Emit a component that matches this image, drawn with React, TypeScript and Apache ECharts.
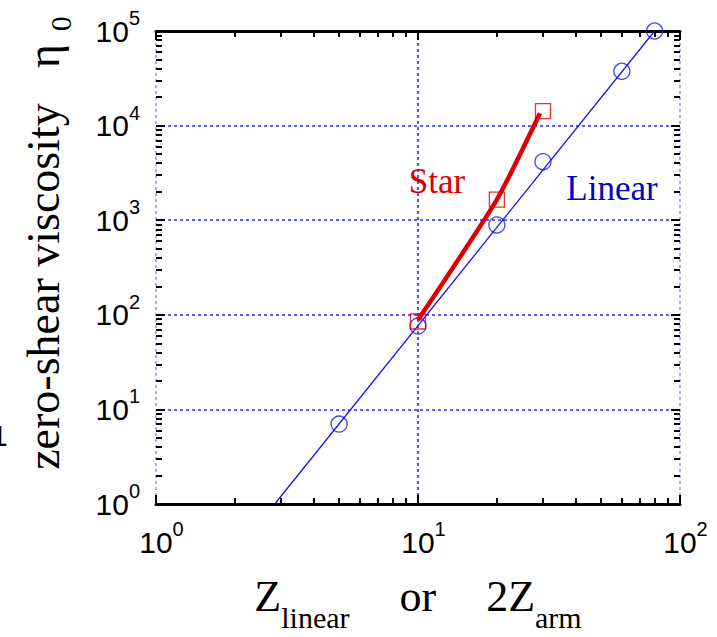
import React, { useEffect, useRef } from "react";
import * as echarts from "echarts";

// ---- data ----
const linearZ = [5, 10, 20, 30, 60, 80];
const linearEta = [7, 76, 890, 4150, 37500, 100000];
const starZ = [10, 20, 30];
const starEta = [85, 1650, 14200];
const linearFitZ = [2.84, 80];
const linearFitEta = [1, 100000];
const starFitZ = [10, 20, 29.2];
const starFitEta = [88, 1650, 13500];

// ---- axis ticks ----
const xMajorTicks = [1, 10, 100];
const yMajorTicks = [1, 10, 100, 1000, 10000, 100000];
const minorMultipliers = [2, 3, 4, 5, 6, 7, 8, 9];
const minorOf = (decades: number[]) =>
  decades.flatMap((d) => minorMultipliers.map((m) => m * d));
const xMinorTicks = minorOf(xMajorTicks.slice(0, -1));
const yMinorTicks = minorOf(yMajorTicks.slice(0, -1));

const zip = (a: number[], b: number[]) => a.map((v, i) => [v, b[i]]);

const BLUE = "#1414f0";
const RED = "#dd0000";
const GRID_BLUE = "#2b2be8";
const EDGE_BLUE = "#9a9ae6";

const supLabel = (v: number) => `{b|10}{sup|${Math.round(Math.log10(v))}}`;
const labelRich = {
  b: { fontFamily: "Liberation Sans", fontSize: 30, lineHeight: 46, verticalAlign: "top", padding: [8, 0, 0, 0], color: "#000" },
  sup: { fontFamily: "Liberation Sans", fontSize: 20, lineHeight: 20, verticalAlign: "top", color: "#000" },
};

const tickStyle = { color: "#000", width: 2 };

export default function App() {
  const ref = useRef<HTMLDivElement>(null);
  useEffect(() => {
    if (!ref.current) return;
    const chart = echarts.init(ref.current, null, { renderer: "svg" });
    const baseX = { type: "log", logBase: 10, min: 1, max: 100, gridIndex: 0 };
    const baseY = { type: "log", logBase: 10, min: 1, max: 100000, gridIndex: 0 };
    const majorX = (position: string, labels: boolean) => ({
      ...baseX,
      position,
      axisLine: { show: true, onZero: false, lineStyle: { color: "#000", width: 3 } },
      axisTick: { show: true, inside: true, length: 9, lineStyle: tickStyle, customValues: xMajorTicks },
      axisLabel: labels
        ? { show: true, customValues: xMajorTicks, formatter: supLabel, rich: labelRich, margin: 15, padding: [0, 0, 0, 11] }
        : { show: false },
      splitLine: labels
        ? { show: true, lineStyle: { color: [EDGE_BLUE, GRID_BLUE, EDGE_BLUE], type: [3, 3], width: 1.6 } }
        : { show: false },
    });
    const minorX = (position: string) => ({
      ...baseX,
      position,
      axisLine: { show: false, onZero: false },
      axisTick: { show: true, inside: true, length: 6, lineStyle: tickStyle, customValues: xMinorTicks },
      axisLabel: { show: false },
      splitLine: { show: false },
    });
    const majorY = (position: string, labels: boolean) => ({
      ...baseY,
      position,
      axisLine: { show: false, onZero: false },
      axisTick: { show: true, inside: true, length: 9, lineStyle: tickStyle, customValues: yMajorTicks },
      axisLabel: labels
        ? { show: true, customValues: yMajorTicks, formatter: supLabel, rich: labelRich, margin: 16 }
        : { show: false },
      splitLine: labels
        ? { show: true, lineStyle: { color: GRID_BLUE, type: [3, 3], width: 1.6 } }
        : { show: false },
    });
    const minorY = (position: string) => ({
      ...baseY,
      position,
      axisLine: { show: false, onZero: false },
      axisTick: { show: true, inside: true, length: 6, lineStyle: tickStyle, customValues: yMinorTicks },
      axisLabel: { show: false },
      splitLine: { show: false },
    });

    const option: any = {
      animation: false,
      backgroundColor: "#fff",
      grid: { left: 156, top: 31, right: 37, bottom: 133, containLabel: false },
      xAxis: [majorX("bottom", true), minorX("bottom"), majorX("top", false), minorX("top")],
      yAxis: [majorY("left", true), minorY("left"), majorY("right", false), minorY("right")],
      series: [
        {
          type: "line",
          data: zip(linearFitZ, linearFitEta),
          symbol: "none",
          lineStyle: { color: BLUE, width: 1.3 },
          silent: true,
          z: 3,
        },
        {
          type: "scatter",
          data: zip(linearZ, linearEta),
          symbol: "circle",
          symbolSize: 16,
          itemStyle: { color: "rgba(0,0,0,0)", borderColor: BLUE, borderWidth: 1.3 },
          silent: true,
          z: 4,
        },
        {
          type: "scatter",
          data: zip(starZ, starEta),
          symbol: "rect",
          symbolSize: 15,
          itemStyle: { color: "rgba(0,0,0,0)", borderColor: RED, borderWidth: 1.3 },
          silent: true,
          z: 4,
        },
        {
          type: "line",
          data: zip(starFitZ, starFitEta),
          symbol: "none",
          smooth: 0.2,
          lineStyle: { color: RED, width: 4.5 },
          silent: true,
          z: 5,
        },
      ],
      graphic: [
        {
          type: "text",
          x: 437,
          y: 181,
          style: {
            text: "Star",
            fill: RED,
            fontFamily: "Liberation Serif",
            fontSize: 35,
            align: "center",
            verticalAlign: "middle",
          },
        },
        {
          type: "text",
          x: 612,
          y: 188,
          style: {
            text: "Linear",
            fill: "#0000cc",
            fontFamily: "Liberation Serif",
            fontSize: 35,
            align: "center",
            verticalAlign: "middle",
          },
        },
        {
          type: "text",
          x: 48,
          y: 243,
          rotation: Math.PI / 2,
          style: {
            text: "{m|zero-shear viscosity}{g|}{m|η}{s|0}",
            fill: "#000",
            align: "center",
            verticalAlign: "middle",
            rich: {
              m: { fontFamily: "Liberation Serif", fontSize: 46, lineHeight: 46, verticalAlign: "top", fill: "#000" },
              g: { width: 35, lineHeight: 46, verticalAlign: "top" },
              s: { fontFamily: "Liberation Serif", fontSize: 30, verticalAlign: "top", fill: "#000", padding: [25, 0, 0, 13] },
            },
          },
        },
        {
          type: "text",
          x: 418,
          y: 574,
          style: {
            text: "{m|Z}{s|linear}{g|}{m|or}{g|}{m|2Z}{s|arm}",
            fill: "#000",
            align: "center",
            verticalAlign: "top",
            rich: {
              m: { fontFamily: "Liberation Serif", fontSize: 44, lineHeight: 44, verticalAlign: "top", fill: "#000" },
              s: { fontFamily: "Liberation Serif", fontSize: 30, verticalAlign: "top", fill: "#000", padding: [28, 0, 0, 0] },
              g: { width: 50, lineHeight: 44, verticalAlign: "top" },
            },
          },
        },
        {
          type: "text",
          x: -9,
          y: 435,
          style: {
            text: "1",
            fill: "#000",
            fontFamily: "Liberation Sans",
            fontSize: 30,
            align: "left",
            verticalAlign: "middle",
          },
        },
      ],
    };
    chart.setOption(option);
    return () => chart.dispose();
  }, []);
  return (
    <div
      ref={ref}
      style={{ position: "fixed", left: 0, top: 0, width: 717, height: 637, background: "#fff" }}
    />
  );
}
